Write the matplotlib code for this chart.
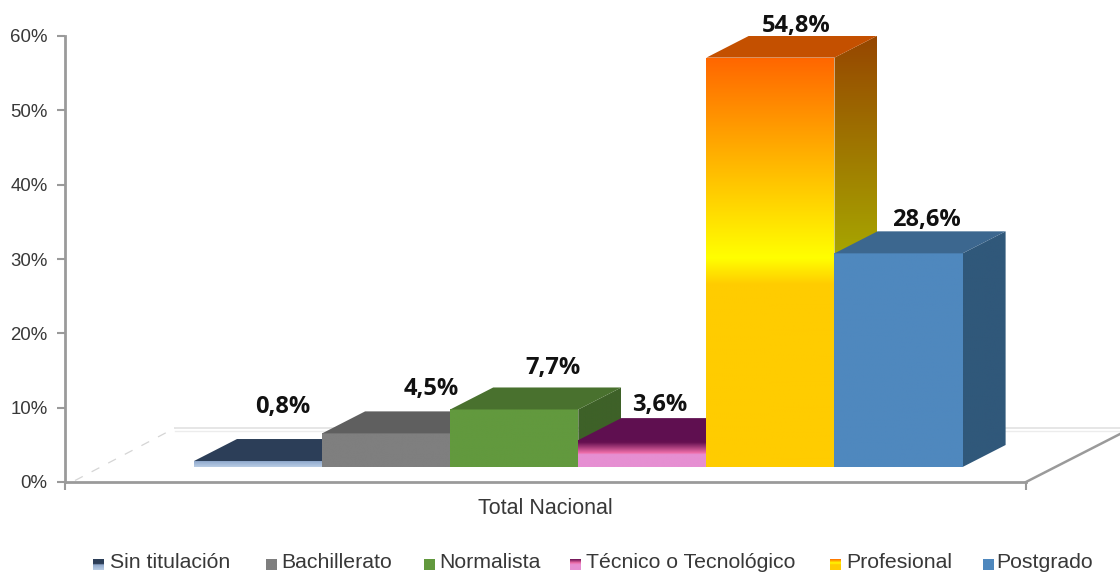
import numpy as np
import matplotlib
matplotlib.use("Agg")
import matplotlib.pyplot as plt
from matplotlib.colors import LinearSegmentedColormap
from matplotlib.patches import Polygon
from matplotlib.ticker import FuncFormatter

# ── Data ──────────────────────────────────────────────────────────────────────
categories = ["Sin titulación", "Bachillerato", "Normalista",
              "Técnico o Tecnológico", "Profesional", "Postgrado"]
values = [0.8, 4.5, 7.7, 3.6, 54.8, 28.6]
value_labels = ["0,8%", "4,5%", "7,7%", "3,6%", "54,8%", "28,6%"]
yticks = [0, 10, 20, 30, 40, 50, 60]
xlabel = "Total Nacional"

# ── Style ─────────────────────────────────────────────────────────────────────
W, H = 1120, 573
plt.rcParams.update({"font.family": ["Liberation Sans", "DejaVu Sans"]})

# (offset from the bar's back centre to its label, in px)
label_offsets = [(3, 32), (24, 22), (17, 19), (-4, 13), (4, 10), (6, 11)]

# gradients go bottom -> top of the front face as (position, colour)
front_colors = [
    [(0, "#b9cde5"), (1, "#8fa8cc")],
    [(0, "#7f7f7f"), (1, "#7f7f7f")],
    [(0, "#62993e"), (1, "#62993e")],
    [(0, "#e68fd2"), (0.47, "#e68fd2"), (0.52, "#f06eaa"), (0.92, "#640f50"), (1, "#640f50")],
    [(0, "#ffcc00"), (0.445, "#ffcc00"), (0.51, "#ffff00"), (1, "#ff6600")],
    [(0, "#4f88be"), (1, "#4f88be")],
]
top_colors = ["#2c3e58", "#5f5f5f", "#49712e", "#5f0f50", "#c45000", "#3c678f"]
side_colors = [
    [(0, "#24344a"), (1, "#24344a")],
    [(0, "#555555"), (1, "#555555")],
    [(0, "#3e6128"), (1, "#3e6128")],
    [(0, "#4d0c40"), (1, "#4d0c40")],
    [(0, "#a8aa00"), (0.47, "#a8aa00"), (1, "#964600")],
    [(0, "#30587a"), (1, "#30587a")],
]
legend_colors = [
    [(0, "#b9cde5"), (0.5, "#8fa8cc"), (0.55, "#2c3e58"), (1, "#2c3e58")],
    [(0, "#7f7f7f"), (1, "#7f7f7f")],
    [(0, "#62993e"), (1, "#62993e")],
    [(0, "#e68fd2"), (0.5, "#e68fd2"), (0.65, "#f06eaa"), (1, "#640f50")],
    [(0, "#ffcc00"), (0.5, "#ffcc00"), (0.65, "#ffff00"), (1, "#ff6600")],
    [(0, "#4f88be"), (1, "#4f88be")],
]
legend_swatch_x = [93, 266, 424, 570, 830, 983]
legend_text_x = [110, 281, 439, 586, 846, 996]

gray = "#9a9a9a"
text_color = "#383838"

fig = plt.figure(figsize=(W / 100, H / 100), dpi=100)
ax = fig.add_axes([65 / W, 1 - 482 / H, (1026 - 65) / W, 446 / H])

px_x = 128.1             # one bar width in px
px_y = 446 / 60          # one percent in px
x_start = (194 - 65) / px_x
x_end = (1026 - 65) / px_x
depth_x = 43 / px_x
depth_y = 22 / px_y
base = 15 / px_y
front_scale = 1.005      # front plane sits a little closer than the axis wall


def gradient(axis, stops, x0, x1, y0, y1, clip):
    cmap = LinearSegmentedColormap.from_list("g", stops)
    img = axis.imshow(np.linspace(1, 0, 256).reshape(-1, 1), cmap=cmap, vmin=0, vmax=1,
                      extent=(x0, x1, y0, y1), aspect="auto", interpolation="bilinear",
                      zorder=3)
    img.set_clip_path(clip)


# ── Floor ─────────────────────────────────────────────────────────────────────
floor_y = (482 - 428) / px_y
ax.plot([(175 - 65) / px_x, (1120 - 65) / px_x], [floor_y, floor_y],
        color="#e2e2e2", lw=1.2, clip_on=False, zorder=1)
ax.plot([(175 - 65) / px_x, (1120 - 65) / px_x], [floor_y - 0.4, floor_y - 0.4],
        color="#ececec", lw=1.0, clip_on=False, zorder=1)
ax.plot([(75 - 65) / px_x, (175 - 65) / px_x], [0.2, floor_y],
        color="#d5d5d5", lw=0.9, ls=(0, (7, 8)), zorder=1)
ax.plot([x_end, (1120 - 65) / px_x], [0, (482 - 434) / px_y],
        color=gray, lw=1.8, clip_on=False, zorder=2)

# ── Bars ──────────────────────────────────────────────────────────────────────
for i, val in enumerate(values):
    x0 = x_start + i
    x1 = x0 + 1
    top = base + val * front_scale

    front = Polygon([(x0, base), (x1, base), (x1, top), (x0, top)],
                    closed=True, fc="none", ec="none", zorder=3)
    side = Polygon([(x1, base), (x1 + depth_x, base + depth_y),
                    (x1 + depth_x, top + depth_y), (x1, top)],
                   closed=True, fc="none", ec="none", zorder=3)
    ax.add_patch(front)
    ax.add_patch(side)
    gradient(ax, side_colors[i], x1, x1 + depth_x, base, top + depth_y, side)
    gradient(ax, front_colors[i], x0, x1, base, top, front)
    ax.add_patch(Polygon([(x0, top), (x1, top), (x1 + depth_x, top + depth_y),
                          (x0 + depth_x, top + depth_y)],
                         closed=True, fc=top_colors[i], ec="none", zorder=3))

    ax.annotate(value_labels[i], (x0 + 0.5 + depth_x / 2, top + depth_y),
                xytext=(label_offsets[i][0] * 0.72, label_offsets[i][1] * 0.72),
                textcoords="offset points", ha="center", va="center",
                fontsize=17, fontweight="bold", family=["Open Sans", "DejaVu Sans"],
                color="#111111", annotation_clip=False, zorder=5)

# ── Axes ──────────────────────────────────────────────────────────────────────
ax.set_xlim(0, x_end)
ax.set_ylim(0, 60)
ax.set_yticks(yticks)
ax.yaxis.set_major_formatter(FuncFormatter(lambda v, _: f"{v:.0f}%"))
ax.set_xticks([0, x_end])
ax.set_xticklabels(["", ""])
ax.tick_params(axis="both", color=gray, width=1.5, length=6, labelsize=13.4,
               labelcolor=text_color)
ax.tick_params(axis="y", pad=6.5)
for name in ["top", "right"]:
    ax.spines[name].set_visible(False)
for name in ["left", "bottom"]:
    ax.spines[name].set_color(gray)
    ax.spines[name].set_linewidth(2)
ax.patch.set_alpha(0)
ax.text((545 - 65) / px_x, -(509 - 482) / px_y, xlabel, ha="center", va="center",
        fontsize=15.5, color=text_color, clip_on=False)

# ── Legend (overlay in pixel coordinates)
leg = fig.add_axes([0, 0, 1, 1])
leg.patch.set_alpha(0)
for i, name in enumerate(categories):
    sx = legend_swatch_x[i]
    box = Polygon([(sx, 570), (sx + 11, 570), (sx + 11, 559), (sx, 559)],
                  closed=True, fc="none", ec="none")
    leg.add_patch(box)
    gradient(leg, legend_colors[i], sx, sx + 11, 570, 559, box)
    leg.text(legend_text_x[i], 563, name, ha="left", va="center", fontsize=15.3,
             color=text_color)
leg.set_xlim(0, W)
leg.set_ylim(H, 0)
leg.axis("off")

plt.savefig("out.png", dpi=100)
